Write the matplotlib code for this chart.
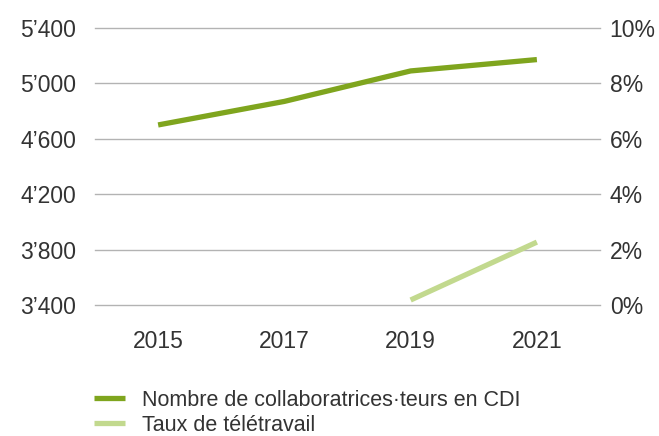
import numpy as np
import matplotlib.pyplot as plt
from matplotlib.ticker import FuncFormatter

plt.rcParams['font.family'] = ['Liberation Sans', 'DejaVu Sans']

years = ['2015', '2017', '2019', '2021']
staff = [4700, 4870, 5090, 5172]
telework_years = ['2019', '2021']
telework = [0.18, 2.27]

dark_green = '#7fa51e'
light_green = '#c2d98e'
text_col = '#333333'

fig = plt.figure(figsize=(6.59, 4.36), dpi=100)
ax = fig.add_axes([95 / 659, 1 - 305 / 436, 505 / 659, 277 / 436])
ax2 = ax.twinx()

x = np.arange(len(years))
ax.plot(x, staff, color=dark_green, lw=3.8, solid_capstyle='butt',
        label='Nombre de collaboratrices\u00b7teurs en CDI', zorder=3)
xt = [years.index(y) for y in telework_years]
ax2.plot(xt, telework, color=light_green, lw=3.8, solid_capstyle='butt',
         label='Taux de télétravail', zorder=3)

ax.set_xlim(-0.5, 3.5)
ax.set_ylim(3400, 5400)
ax.set_yticks([3400, 3800, 4200, 4600, 5000, 5400])
ax.yaxis.set_major_formatter(FuncFormatter(lambda v, p: f"{int(v)//1000}\u2019{int(v)%1000:03d}"))
ax2.set_ylim(0, 10)
ax2.set_yticks([0, 2, 4, 6, 8, 10])
ax2.yaxis.set_major_formatter(FuncFormatter(lambda v, p: f"{int(v)}%"))

ax.set_xticks(x)
ax.set_xticklabels(years)

for a in (ax, ax2):
    for s in a.spines.values():
        s.set_visible(False)
    a.tick_params(length=0, labelsize=16.5, colors=text_col)
ax.tick_params(axis='y', pad=13.5)
ax2.tick_params(axis='y', pad=7)
ax.tick_params(axis='x', pad=18)

# horizontal grid, drawn unclipped so the 3'400 line shows fully
for v in ax.get_yticks():
    ax.axhline(v, color='#b3b3b3', lw=1, zorder=1, clip_on=False)

h1, l1 = ax.get_legend_handles_labels()
h2, l2 = ax2.get_legend_handles_labels()
fig.legend(h1 + h2, l1 + l2, loc='upper left', bbox_to_anchor=(94 / 659, 1 - 390 / 436),
           frameon=False, fontsize=15.5, handlelength=1.45, handletextpad=0.8,
           labelspacing=0.18, labelcolor=text_col, borderaxespad=0, borderpad=0)

fig.savefig('out.png', dpi=100)
